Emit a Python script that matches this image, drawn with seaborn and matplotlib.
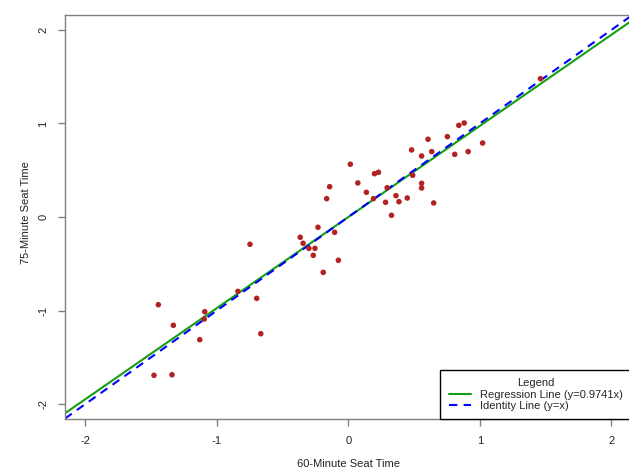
import numpy as np
import pandas as pd
import matplotlib
matplotlib.use("Agg")
import matplotlib.pyplot as plt
import seaborn as sns

# seat time, standardized
seat_60 = [0.015, 0.072, -0.142, -0.165, -0.231, -0.104, -0.366, 1.461, 0.881, 0.840,
           1.021, 0.753, 0.606, 0.911, 0.809, 0.634, 0.481, 0.557, 0.199, 0.229,
           0.489, 0.137, 0.295, 0.191, 0.557, 0.557, 0.362, 0.283, 0.385, 0.448,
           0.649, 0.328, -0.344, -0.300, -0.254, -0.267, -0.076, -0.191, -0.748, -0.840,
           -0.697, -0.666, -1.092, -1.096, -1.130, -1.445, -1.331, -1.478, -1.341]
seat_75 = [0.564, 0.364, 0.324, 0.196, -0.110, -0.164, -0.217, 1.479, 1.005, 0.980,
           0.791, 0.859, 0.831, 0.699, 0.670, 0.699, 0.717, 0.652, 0.463, 0.478,
           0.446, 0.264, 0.313, 0.196, 0.360, 0.310, 0.228, 0.157, 0.164, 0.203,
           0.150, 0.018, -0.281, -0.335, -0.335, -0.410, -0.463, -0.592, -0.292, -0.795,
           -0.870, -1.248, -1.013, -1.091, -1.312, -0.938, -1.158, -1.693, -1.687]
reg_slope = 0.9741
ticks = [-2, -1, 0, 1, 2]

df = pd.DataFrame({"x": seat_60, "y": seat_75})

sns.set_style("white")
plt.rcParams['font.family'] = ['Liberation Sans', 'DejaVu Sans']
plt.rcParams['font.size'] = 8

fig = plt.figure(figsize=(6.29, 4.71), dpi=100)
ax = fig.add_axes([0.1033, 0.1104, 0.9, 0.8578])

sns.scatterplot(data=df, x="x", y="y", color="#B22222", s=16, edgecolor="none",
                legend=False, ax=ax, zorder=3)

ax.axline((0, 0), slope=reg_slope, color="#11A011", lw=1.5,
          label="Regression Line (y=0.9741x)", zorder=2)
ax.axline((0, 0), slope=1, color="#0000FF", lw=1.5, ls=(0, (4, 3)),
          label="Identity Line (y=x)", zorder=2)

ax.set_xlim(-2.155, 2.15)
ax.set_ylim(-2.16, 2.16)
ax.set_xticks(ticks)
ax.set_yticks(ticks)
ax.set_xticklabels([str(t) for t in ticks])
ax.set_yticklabels([str(t) for t in ticks], rotation=90, va="center")
ax.tick_params(direction="out", length=5, width=1, color="#808080",
               labelcolor="#222222", pad=7, bottom=True, left=True)
for side in ["left", "bottom", "top", "right"]:
    ax.spines[side].set_color("#808080")
    ax.spines[side].set_linewidth(1)

ax.set_xlabel("60-Minute Seat Time", color="#222222")
ax.set_ylabel("75-Minute Seat Time", color="#222222")
ax.xaxis.set_label_coords(0.5, -0.1)
ax.yaxis.set_label_coords(-0.06, 0.51)

leg = ax.legend(loc="lower right", title="Legend", fancybox=False, framealpha=1,
                edgecolor="black", borderaxespad=0, handlelength=2.0,
                labelspacing=0.1, borderpad=0.75, handletextpad=0.8,
                fontsize=8, title_fontsize=8)
leg.get_frame().set_linewidth(1)

fig.savefig("out.png", dpi=100)
